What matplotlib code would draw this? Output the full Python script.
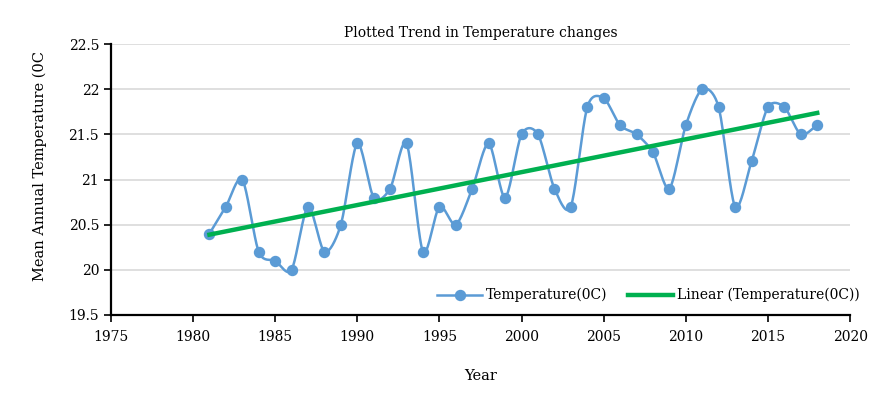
import numpy as np
import matplotlib.pyplot as plt

# mean annual temperature readings
years = list(range(1981, 2019))
temps = [20.4, 20.7, 21.0, 20.2, 20.1, 20.0, 20.7, 20.2, 20.5, 21.4,
         20.8, 20.9, 21.4, 20.2, 20.7, 20.5, 20.9, 21.4, 20.8, 21.5,
         21.5, 20.9, 20.7, 21.8, 21.9, 21.6, 21.5, 21.3, 20.9, 21.6,
         22.0, 21.8, 20.7, 21.2, 21.8, 21.8, 21.5, 21.6]

x_ticks = [1975, 1980, 1985, 1990, 1995, 2000, 2005, 2010, 2015, 2020]
y_ticks = [19.5, 20, 20.5, 21, 21.5, 22, 22.5]


def smooth_curve(xs, ys, n=20, k=0.42):
    """Cardinal spline through the points (like Excel's smoothed line)."""
    xs = np.asarray(xs, float)
    ys = np.asarray(ys, float)
    px = np.concatenate([[2 * xs[0] - xs[1]], xs, [2 * xs[-1] - xs[-2]]])
    py = np.concatenate([[2 * ys[0] - ys[1]], ys, [2 * ys[-1] - ys[-2]]])
    out_x, out_y = [], []
    t = np.linspace(0, 1, n, endpoint=False)
    h00 = 2 * t ** 3 - 3 * t ** 2 + 1
    h10 = t ** 3 - 2 * t ** 2 + t
    h01 = -2 * t ** 3 + 3 * t ** 2
    h11 = t ** 3 - t ** 2
    for i in range(1, len(px) - 2):
        for p, out in ((px, out_x), (py, out_y)):
            m1 = k * (p[i + 1] - p[i - 1])
            m2 = k * (p[i + 2] - p[i])
            out.extend(h00 * p[i] + h10 * m1 + h01 * p[i + 1] + h11 * m2)
    out_x.append(xs[-1])
    out_y.append(ys[-1])
    return np.array(out_x), np.array(out_y)


plt.rcParams['font.family'] = ['DejaVu Serif']

fig = plt.figure(figsize=(8.8, 4), dpi=100)
ax = fig.add_axes([0.126, 0.2125, 0.84, 0.6775])

blue = '#5b9bd5'
green = '#00b050'

sx, sy = smooth_curve(years, temps)
ax.plot(sx, sy, color=blue, lw=1.8, zorder=3)
ax.plot(years, temps, 'o', color=blue, ms=7.2, zorder=4)
# proxy for legend entry
ax.plot([], [], '-o', color=blue, lw=1.8, ms=7.2, label='Temperature(0C)')

coef = np.polyfit(years, temps, 1)
trend_x = np.array([years[0], years[-1]])
ax.plot(trend_x, np.polyval(coef, trend_x), color=green, lw=3.2,
        zorder=5, label='Linear (Temperature(0C))')

ax.set_xlim(1975, 2020)
ax.set_ylim(19.5, 22.5)
ax.set_xticks(x_ticks)
ax.set_yticks(y_ticks)
ax.set_yticklabels([f'{v:g}' for v in y_ticks])
ax.grid(axis='y', color='#d9d9d9', lw=1.2)
ax.set_axisbelow(True)

for s in ['top', 'right']:
    ax.spines[s].set_visible(False)
for s in ['left', 'bottom']:
    ax.spines[s].set_linewidth(1.6)
    ax.spines[s].set_color('black')
ax.tick_params(axis='both', direction='out', length=5, width=1.2,
               labelsize=10, colors='black')
ax.tick_params(axis='x', pad=6)

ax.set_title('Plotted Trend in Temperature changes', fontsize=10, pad=5)
ax.set_xlabel('Year', fontsize=10.5, labelpad=18)
ax.set_ylabel('Mean Annual Temperature (0C', fontsize=10.5)
ax.yaxis.set_label_coords(-0.086, 0.55)

ax.legend(loc='lower right', bbox_to_anchor=(1.03, 0.0), ncol=2,
          frameon=False, fontsize=10, handlelength=3.2, columnspacing=1.5,
          handletextpad=0.3)

fig.savefig('out.png', dpi=100)
